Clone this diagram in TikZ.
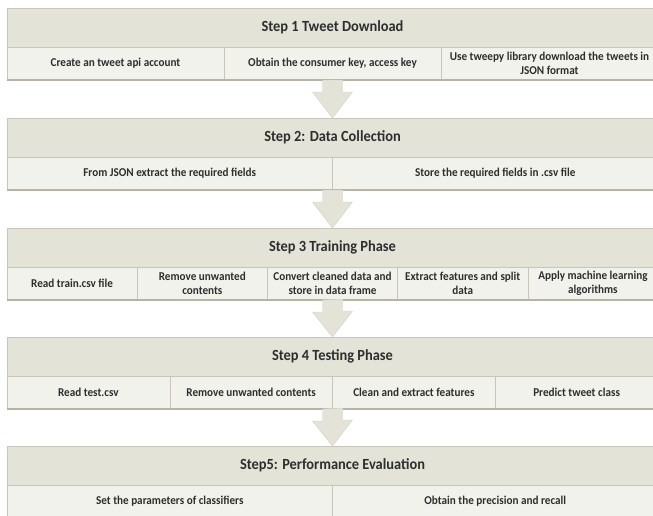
\documentclass[tikz,border=0pt]{standalone}
\usepackage{fontspec}
\setmainfont{Carlito}[FakeStretch=0.93]
\usetikzlibrary{positioning,calc}
\definecolor{hdrfill}{HTML}{E3E3D8}
\definecolor{cellfill}{HTML}{F2F2EC}
\definecolor{edge}{HTML}{CBC4B8}
\definecolor{shade}{HTML}{BAB2A4}
\definecolor{ink}{HTML}{2E2E2E}

\begin{document}
\begin{tikzpicture}[x=1pt,y=-1pt, line join=round,
    font=\bfseries\fontsize{12}{14.5}\selectfont, text=ink,
    hdr/.style={draw=edge, fill=hdrfill, minimum width=651pt, minimum height=39pt,
      inner sep=0pt, outer sep=0pt, anchor=north west, font=\bfseries\fontsize{15.5}{17}\selectfont},
    cell/.style={draw=edge, fill=cellfill, minimum width=#1, minimum height=33pt,
      inner sep=1pt, outer sep=0pt, align=center},
    arr/.style={draw=edge!80, fill=hdrfill},
    base/.style={draw=shade, line width=1.6pt}]
\useasboundingbox (0,0) rectangle (653,515);
\clip (0,0) rectangle (653,515);

% step 1
\node[hdr] (s1) at (7,8) {Step 1 Tweet Download};
\node[cell=217pt, anchor=north west] (s1a) at (s1.south west) {Create an tweet api account};
\node[cell=217pt, right=0pt of s1a] (s1b) {Obtain the consumer  key, access key};
\node[cell=217pt, right=0pt of s1b] (s1c) {Use tweepy library download  the tweets  in\\JSON format};
\draw[base] (s1a.south west) -- (s1c.south east);

% step 2
\node[hdr] (s2) at (7,118) {Step 2: Data Collection};
\node[cell=325.5pt, anchor=north west] (s2a) at (s2.south west) {From JSON extract the required fields};
\node[cell=325.5pt, right=0pt of s2a] (s2b) {Store the required fields in .csv file};
\draw[base] (s2a.south west) -- (s2b.south east);

% step 3
\node[hdr] (s3) at (7,228) {Step 3 Training Phase};
\node[cell=130.2pt, anchor=north west] (s3a) at (s3.south west) {Read train.csv file};
\node[cell=130.2pt, right=0pt of s3a] (s3b) {Remove unwanted\\contents};
\node[cell=130.2pt, right=0pt of s3b] (s3c) {Convert cleaned data and\\store in data  frame};
\node[cell=130.2pt, right=0pt of s3c] (s3d) {Extract features and split\\data};
\node[cell=130.2pt, right=0pt of s3d] (s3e) {Apply machine  learning\\algorithms};
\draw[base] (s3a.south west) -- (s3e.south east);

% step 4
\node[hdr] (s4) at (7,337) {Step 4 Testing Phase};
\node[cell=162.75pt, anchor=north west] (s4a) at (s4.south west) {Read test.csv};
\node[cell=162.75pt, right=0pt of s4a] (s4b) {Remove unwanted contents};
\node[cell=162.75pt, right=0pt of s4b] (s4c) {Clean and extract features};
\node[cell=162.75pt, right=0pt of s4c] (s4d) {Predict tweet class};
\draw[base] (s4a.south west) -- (s4d.south east);

% step 5
\node[hdr] (s5) at (7,446) {Step5: Performance Evaluation};
\node[cell=325.5pt, anchor=north west] (s5a) at (s5.south west) {Set the parameters of classifiers};
\node[cell=325.5pt, right=0pt of s5a] (s5b) {Obtain the precision and recall};

% arrows between the steps
\draw[arr] ($(s1.south)+(-10,33)$) -- ++(0,12) -- ++(-10,0) -- (s2.north) -- ++(20,-26) -- ++(-10,0) -- ++(0,-12) -- cycle;
\draw[arr] ($(s2.south)+(-10,33)$) -- ++(0,12) -- ++(-10,0) -- (s3.north) -- ++(20,-26) -- ++(-10,0) -- ++(0,-12) -- cycle;
\draw[arr] ($(s3.south)+(-10,33)$) -- ++(0,12) -- ++(-10,0) -- (s4.north) -- ++(20,-26) -- ++(-10,0) -- ++(0,-12) -- cycle;
\draw[arr] ($(s4.south)+(-10,33)$) -- ++(0,12) -- ++(-10,0) -- (s5.north) -- ++(20,-26) -- ++(-10,0) -- ++(0,-12) -- cycle;
\end{tikzpicture}
\end{document}
